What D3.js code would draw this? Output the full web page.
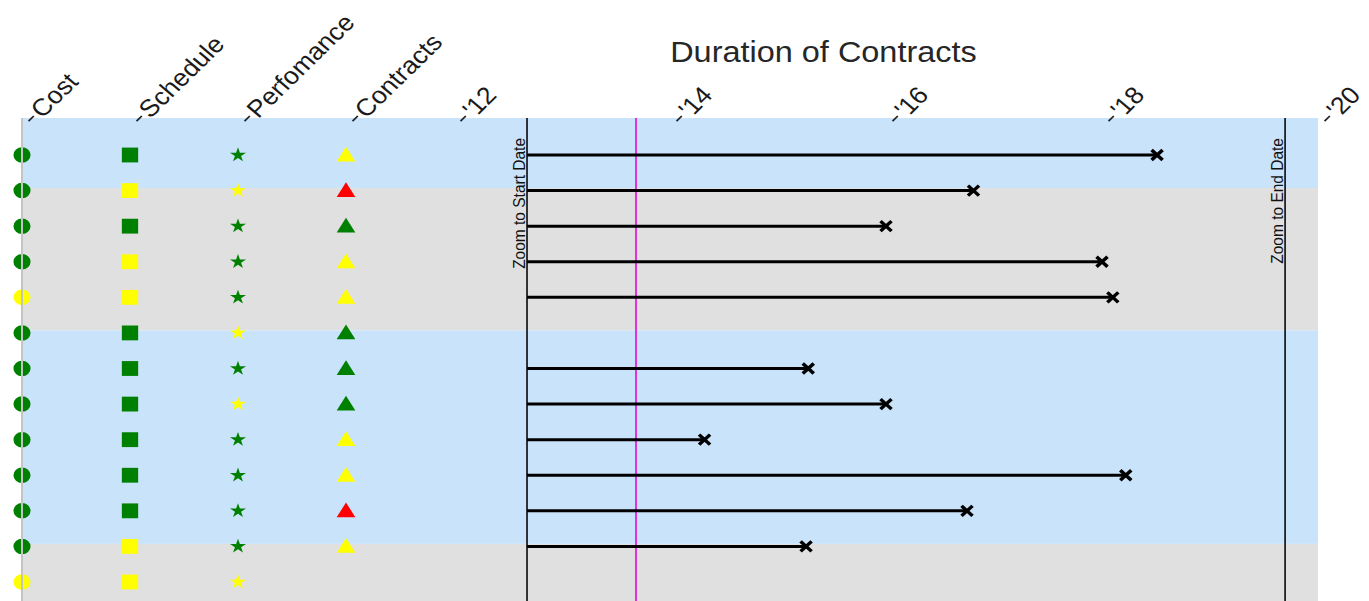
<!DOCTYPE html>
<html>
<head>
<meta charset="utf-8">
<script src="https://cdn.jsdelivr.net/npm/d3@7"></script>
<style>
  html, body { margin: 0; padding: 0; background: #fff; }
  svg { display: block; }
  text { font-family: "Liberation Sans", Arial, sans-serif; }
</style>
</head>
<body>
<svg id="chart"></svg>
<script>
// Status columns sit on the same horizontal year axis as the contract durations
const statusColumns = ["Cost", "Schedule", "Perfomance", "Contracts"];
const statusColumnYears = [2008, 2009, 2010, 2011];
const yearTicks = [2012, 2014, 2016, 2018, 2020];
const yearTickLabels = ["'12", "'14", "'16", "'18", "'20"];

// One entry per contract row: G = green, Y = yellow, R = red, null = no rating
const costStatus        = ["G", "G", "G", "G", "Y", "G", "G", "G", "G", "G", "G", "G", "Y"];
const scheduleStatus    = ["G", "Y", "G", "Y", "Y", "G", "G", "G", "G", "G", "G", "Y", "Y"];
const performanceStatus = ["G", "Y", "G", "G", "G", "Y", "G", "Y", "G", "G", "G", "G", "Y"];
const contractStatus    = ["Y", "R", "G", "Y", "Y", "G", "G", "G", "Y", "Y", "R", "Y", null];

// Contract end dates (decimal years); null = no duration bar
const contractEndYears = [2018.51, 2016.81, 2016.00, 2018.00, 2018.10, null,
                          2015.28, 2016.00, 2014.32, 2018.22, 2016.75, 2015.26, null];

// Zoom window and current date (decimal years)
const zoomStartYear = 2012.676;
const todayYear = 2013.685;
const zoomEndYear = 2019.695;

// Row groups shaded alternately: index of the first row in each group
const groupFirstRows = [0, 1, 5, 11];

// ---- layout ----
const W = 1369, H = 601;
const VW = W / 1.1;               // drawing is stretched horizontally to fill the frame
const plotTop = 118, plotBottom = H;

const svg = d3.select("#chart")
  .attr("width", W).attr("height", H)
  .attr("viewBox", `0 0 ${VW} ${H}`)
  .attr("preserveAspectRatio", "none");

const x = d3.scaleLinear().domain([2008, 2020]).range([20, 1198.2]);
const rowIndex = d3.range(costStatus.length);
const y = d3.scaleLinear().domain([0, 12]).range([155, 582]);

const statusColor = { G: "#008000", Y: "#ffff00", R: "#ff0000" };
const bandColors = ["#c9e3fb", "#e0e0e0"];

// ---- row group bands ----
const bands = groupFirstRows.map((first, i) => {
  const top = i === 0 ? plotTop : y(first) - 2.5;
  const bottom = i < groupFirstRows.length - 1 ? y(groupFirstRows[i + 1]) - 2.5 : plotBottom;
  return { top, bottom, fill: bandColors[i % 2] };
});
svg.append("g").selectAll("rect").data(bands).join("rect")
  .attr("x", x(2008)).attr("width", x(2020) - x(2008))
  .attr("y", d => d.top).attr("height", d => d.bottom - d.top)
  .attr("fill", d => d.fill);

// ---- status symbols ----
const columns = [
  { values: costStatus,        year: statusColumnYears[0], type: d3.symbolCircle,   size: 190 },
  { values: scheduleStatus,    year: statusColumnYears[1], type: d3.symbolSquare,   size: 220 },
  { values: performanceStatus, year: statusColumnYears[2], type: d3.symbolStar,     size: 66 },
  { values: contractStatus,    year: statusColumnYears[3], type: d3.symbolTriangle, size: 125 }
];
const symG = svg.append("g");
columns.forEach(col => {
  const gen = d3.symbol().type(col.type).size(col.size);
  symG.append("g").selectAll("path")
    .data(rowIndex.filter(i => col.values[i] !== null))
    .join("path")
    .attr("d", gen)
    .attr("transform", i => `translate(${x(col.year)},${y(i) + (col.type === d3.symbolTriangle ? 1.5 : 0)})`)
    .attr("fill", i => statusColor[col.values[i]]);
});

// left edge of the plot
svg.append("line")
  .attr("x1", x(2008)).attr("x2", x(2008))
  .attr("y1", plotTop).attr("y2", plotBottom)
  .attr("stroke", "#c4c4c4").attr("stroke-width", 1.8);

// ---- zoom window and today markers ----
const markers = [
  { year: zoomStartYear, color: "#000", width: 1.4, label: "Zoom to Start Date" },
  { year: todayYear,     color: "#e030e0", width: 1.8, label: null },
  { year: zoomEndYear,   color: "#000", width: 1.4, label: "Zoom to End Date" }
];
const mG = svg.append("g");
mG.selectAll("line").data(markers).join("line")
  .attr("x1", d => x(d.year)).attr("x2", d => x(d.year))
  .attr("y1", plotTop).attr("y2", plotBottom)
  .attr("stroke", d => d.color).attr("stroke-width", d => d.width);
mG.selectAll("text").data(markers.filter(d => d.label)).join("text")
  .attr("transform", d => `translate(${x(d.year) - 2},138) rotate(-90)`)
  .attr("text-anchor", "end")
  .attr("font-size", 15.5)
  .attr("fill", "#111")
  .text(d => d.label);

// ---- duration bars ----
const barRows = rowIndex.filter(i => contractEndYears[i] !== null);
svg.append("g").selectAll("line").data(barRows).join("line")
  .attr("x1", x(zoomStartYear)).attr("x2", i => x(contractEndYears[i]))
  .attr("y1", i => y(i)).attr("y2", i => y(i))
  .attr("stroke", "#000").attr("stroke-width", 3);

// end-date cross marks
const cross = 5;
svg.append("g").selectAll("path").data(barRows).join("path")
  .attr("d", i => {
    const cx = x(contractEndYears[i]), cy = y(i);
    return `M${cx - cross},${cy - cross}L${cx + cross},${cy + cross}M${cx - cross},${cy + cross}L${cx + cross},${cy - cross}`;
  })
  .attr("stroke", "#000").attr("stroke-width", 3.2).attr("fill", "none");

// ---- top axis: status headings then year ticks ----
const tickLabel = new Map([
  ...statusColumnYears.map((yr, i) => [yr, statusColumns[i]]),
  ...yearTicks.map((yr, i) => [yr, yearTickLabels[i]])
]);
const axis = d3.axisTop(x)
  .tickValues([...statusColumnYears, ...yearTicks])
  .tickFormat(d => tickLabel.get(d))
  .tickSize(0).tickPadding(0);
const axisG = svg.append("g").attr("transform", `translate(0,${plotTop})`).call(axis);
axisG.select(".domain").remove();
axisG.selectAll(".tick line")
  .attr("transform", "translate(0,9) rotate(-47)")
  .attr("x1", 8).attr("x2", 15).attr("y1", 0).attr("y2", 0)
  .attr("stroke", "#222").attr("stroke-width", 1.6);
axisG.selectAll(".tick text")
  .attr("transform", "translate(0,9) rotate(-47)")
  .attr("text-anchor", "start")
  .attr("x", 18).attr("y", 0).attr("dy", "0.32em")
  .attr("font-size", 24.2)
  .attr("font-family", "'Liberation Sans', Arial, sans-serif")
  .attr("fill", "#1a1a1a");

// ---- title ----
svg.append("text")
  .attr("x", 748.6).attr("y", 62)
  .attr("text-anchor", "middle")
  .attr("font-size", 29.5)
  .attr("fill", "#262626")
  .text("Duration of Contracts");
</script>
</body>
</html>
